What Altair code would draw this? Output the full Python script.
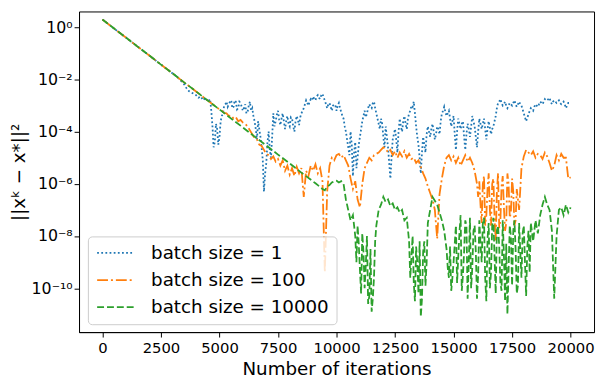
import altair as alt
import pandas as pd

# ---------------- data (log10 of ||x^k - x*||^2) ----------------
series_names = ["batch size = 1", "batch size = 100", "batch size = 10000"]
series_colors = ["#1f77b4", "#ff7f0e", "#2ca02c"]

# batch size = 1
blue_iters = [0, 500, 1000, 1500, 2000, 2500, 3000, 3100, 3200] + list(range(3300, 20001, 100))
blue_log10 = [0.30, -0.05, -0.39, -0.74, -1.08, -1.43, -1.77, -1.84, -1.91,
              -2.0, -2.1, -2.2, -2.35, -2.45, -2.5, -2.55, -2.6, -2.7, -2.65,
              -2.8, -2.7, -2.85, -2.75, -3.8, -4.4, -3.9, -4.2, -3.4, -3.0,
              -2.85, -2.95, -2.8, -3.05, -2.85, -3.1, -2.9, -3.2, -2.95, -3.25,
              -2.85, -3.1, -3.6, -4.3, -3.9, -4.6, -6.3, -5.2, -4.0, -5.0,
              -3.3, -3.6, -3.2, -3.75, -3.3, -3.9, -3.4, -3.8, -3.5, -4.0,
              -3.4, -3.75, -3.3, -3.1, -2.8, -3.0, -2.75, -2.65, -2.8, -2.6,
              -2.75, -2.55, -2.8, -3.1, -2.9, -3.2, -2.95, -3.2, -2.9, -3.25,
              -3.5, -4.0, -4.6, -4.0, -5.7, -4.4, -5.0, -4.2, -3.6, -3.2,
              -3.3, -2.95, -3.1, -2.85, -3.3, -3.7, -3.5, -4.2, -3.8, -4.6,
              -5.8, -4.3, -3.9, -4.8, -3.5, -4.0, -3.4, -3.9, -3.3, -3.0,
              -2.85, -3.8, -4.5, -5.6, -4.2, -4.8, -3.8, -4.2, -3.7, -4.3,
              -3.8, -4.1, -3.3, -3.05, -3.4, -3.2, -3.8, -3.4, -4.7, -3.5,
              -3.9, -3.6, -4.7, -3.7, -4.2, -3.4, -3.8, -4.6, -3.5, -3.9,
              -3.5, -4.3, -3.6, -4.1, -3.8, -3.4, -2.9, -2.75, -3.0, -2.85,
              -3.1, -2.9, -3.0, -2.8, -3.05, -2.85, -3.0, -3.3, -3.6, -3.35,
              -3.1, -3.2, -2.95, -3.05, -2.85, -2.95, -2.75, -2.8, -2.7, -2.95,
              -2.8, -2.9, -2.8, -2.95, -2.85, -3.1, -2.9, -2.95]
# extra readings in between (4650 ... 19950)
blue_band_iters = list(range(4650, 20000, 100))
blue_band_log10 = [-3.2, -4.6, -3.7, -4.5,
                   -3.6, -3.3, -2.95, -3.05, -2.85, -3.1, -2.8, -3.15, -2.85, -3.05,
                   -3.1, -3.3, -3.0, -3.2, -3.4, -3.9, -3.6, -4.2, -5.1, -5.6,
                   -4.4, -4.7, -4.2, -3.8, -3.35, -3.55, -3.5, -3.6, -3.6, -3.7,
                   -3.45, -3.8, -3.6, -3.55, -3.45, -3.2, -2.95, -2.9, -2.85, -2.8,
                   -2.75, -2.65, -2.7, -2.6, -2.7, -2.95, -2.95, -3.05, -3.0, -3.0,
                   -3.0, -3.1, -3.4, -3.8, -4.3, -4.9, -4.5, -4.8, -5.4, -4.5,
                   -3.9, -3.4, -3.45, -3.1, -3.05, -2.9, -3.1, -3.5, -3.9, -3.7,
                   -4.6, -4.2, -5.2, -5.0, -4.1, -4.3, -4.0, -3.8, -3.6, -3.7,
                   -3.5, -3.2, -3.05, -3.3, -4.2, -5.0, -4.8, -4.5, -4.1, -4.0,
                   -3.9, -4.0, -4.1, -3.9, -3.6, -3.2, -3.25, -3.3, -3.5, -3.6,
                   -4.1, -4.0, -3.7, -3.7, -4.2, -4.1, -3.9, -3.8, -3.6, -4.2,
                   -4.0, -3.7, -3.7, -3.9, -3.9, -3.85, -3.9, -3.6, -3.1, -2.85,
                   -2.9, -2.95, -3.0, -3.0, -2.95, -2.9, -2.95, -2.95, -2.95, -3.15,
                   -3.45, -3.45, -3.2, -3.15, -3.05, -3.0, -2.95, -2.9, -2.85, -2.8,
                   -2.75, -2.85, -2.85, -2.85, -2.85, -2.9, -2.9, -2.95, -3.0, -2.9]

# batch size = 100
orange_iters = [0, 500, 1000, 1500, 2000, 2500, 3000, 3500, 4000, 4500, 5000] + list(range(5100, 20001, 100))
orange_log10 = [0.30, -0.05, -0.39, -0.74, -1.08, -1.43, -1.77, -2.12, -2.46, -2.81, -3.15,
                -3.2, -3.28, -3.3, -3.4, -3.38, -3.5, -3.45, -3.6, -3.55, -3.65,
                -3.7, -3.8, -3.95, -4.1, -4.25, -4.3, -4.5, -4.55, -4.7, -4.85,
                -4.9, -5.05, -4.95, -5.15, -5.05, -5.3, -5.1, -5.5, -5.3, -5.65,
                -5.4, -5.7, -5.35, -5.6, -5.4, -6.5, -5.5, -5.7, -5.3, -5.5,
                -5.25, -5.6, -5.4, -5.9, -9.4, -6.3, -5.3, -5.0, -5.1, -4.9,
                -4.85, -5.0, -4.9, -5.1, -5.3, -5.8, -6.2, -5.9, -6.6, -6.9,
                -6.0, -5.4, -5.2, -5.0, -5.1, -4.9, -4.85, -4.8, -4.7, -4.6,
                -4.65, -4.8, -4.7, -4.9, -4.75, -5.0, -4.8, -4.95, -4.75, -5.0,
                -4.85, -5.05, -5.0, -5.2, -5.1, -5.35, -5.6, -5.8, -6.1, -6.35,
                -6.6, -7.0, -8.1, -6.4, -5.8, -5.3, -5.0, -4.9, -5.1, -4.95,
                -5.2, -5.0, -5.3, -5.1, -4.9, -5.15, -5.0, -5.2, -5.5, -6.0,
                -5.9, -7.5, -5.7, -7.2, -5.6, -7.6, -5.8, -8.2, -5.6, -7.4,
                -5.7, -7.8, -5.6, -7.3, -5.8, -7.6, -6.2, -7.0, -5.4, -4.95,
                -4.7, -4.8, -4.9, -4.75, -5.0, -4.85, -4.9, -5.05, -4.8, -4.95,
                -5.2, -5.5, -5.3, -4.9, -5.1, -4.85, -5.0, -5.0, -5.8, -5.75]
# extra readings inside the noisy band (16050 ... 17750)
orange_band_iters = list(range(16050, 17751, 100))
orange_band_log10 = [-6.5, -6.8, -6.0, -7.6, -6.2, -7.0, -6.0, -7.3, -6.3, -7.7,
                     -6.1, -6.9, -7.5, -6.0, -7.1, -6.3, -7.4, -6.6]

# batch size = 10000
green_iters = list(range(0, 9001, 500)) + list(range(9100, 20001, 100))
green_log10 = [0.30, -0.05, -0.39, -0.74, -1.08, -1.43, -1.77, -2.12, -2.46, -2.81,
               -3.15, -3.50, -3.84, -4.19, -4.53, -4.88, -5.22, -5.57, -5.91,
               -5.98, -6.05, -6.12, -6.2, -6.25, -6.1, -6.05, -5.95, -5.9, -5.88,
               -5.95, -5.9, -6.0, -6.6, -7.0, -7.4, -7.2, -8.0, -7.6, -9.3,
               -7.9, -10.0, -8.0, -10.3, -10.9, -9.6, -7.6, -7.0, -6.8, -6.5,
               -6.7, -6.6, -6.85, -6.75, -7.0, -6.9, -7.1, -7.0, -7.4, -7.3,
               -8.2, -8.8, -9.8, -8.4, -10.2, -11.1, -8.6, -9.9, -7.5, -7.0,
               -6.5, -6.65, -6.8, -7.1, -7.4, -7.8, -8.5, -9.6, -10.1, -9.0,
               -7.6, -8.8, -7.2, -9.5, -7.4, -10.4, -7.3, -9.2, -7.6, -10.4,
               -7.4, -9.0, -7.3, -10.5, -7.5, -9.4, -7.3, -10.2, -7.6, -9.8,
               -7.4, -10.5, -11.0, -7.6, -9.9, -7.4, -10.2, -7.5, -9.6, -7.6,
               -10.3, -7.8, -7.5, -8.2, -7.4, -7.9, -7.2, -6.8, -6.5, -6.8,
               -7.0, -7.8, -10.4, -8.0, -7.0, -6.9, -7.2, -6.8, -7.1, -6.9]
# extra readings inside the noisy bands
green_band_iters = (list(range(10850, 11651, 100)) + list(range(13150, 13851, 100))
                    + list(range(14750, 18251, 100)))
green_band_log10 = [-9.0, -8.3, -10.2, -8.6, -9.1, -10.6, -8.5, -10.4, -8.2,
                    -9.6, -8.0, -10.5, -9.0, -8.2, -10.4, -8.2, -9.0,
                    -9.2, -8.4, -9.6, -8.3, -9.8, -7.9, -10.1, -8.6, -7.6, -9.0,
                    -10.0, -7.8, -8.6, -9.5, -8.3, -7.5, -9.6, -8.1, -10.0, -7.6,
                    -8.8, -7.8, -8.4, -10.1, -8.7, -8.3, -9.3, -8.0, -7.8, -8.5,
                    -9.9, -8.6, -7.9, -9.0, -8.4, -9.4]

x_ticks = [0, 2500, 5000, 7500, 10000, 12500, 15000, 17500, 20000]
y_tick_exponents = [0, -2, -4, -6, -8, -10]
y_tick_labels = ["10⁰", "10⁻²", "10⁻⁴", "10⁻⁶", "10⁻⁸", "10⁻¹⁰"]

# ---------------- table ----------------
rows = []
for name, its, logs in [(series_names[0], blue_iters + blue_band_iters, blue_log10 + blue_band_log10),
                        (series_names[1], orange_iters + orange_band_iters, orange_log10 + orange_band_log10),
                        (series_names[2], green_iters + green_band_iters, green_log10 + green_band_log10)]:
    assert len(its) == len(logs), (name, len(its), len(logs))
    for it, lg in zip(its, logs):
        rows.append({"iteration": it, "error": 10.0 ** lg, "series": name})
df = pd.DataFrame(rows).sort_values(["series", "iteration"]).reset_index(drop=True)

label_expr = ""
for ex, lab in zip(y_tick_exponents, y_tick_labels):
    label_expr += f"round(log(datum.value)/LN10) == {ex} ? '{lab}' : "
label_expr += "''"

FONT = "DejaVu Sans"
dashes = [[1.8, 2.4], [11, 3, 2, 3], [7, 3]]

x_enc = alt.X("iteration:Q",
              scale=alt.Scale(domain=[-1000, 21000], nice=False, zero=False),
              axis=alt.Axis(values=x_ticks, format="d", title="Number of iterations",
                            labelFont=FONT, labelFontSize=15, labelPadding=4,
                            titleY=42.5, titleBaseline="alphabetic"))
y_enc = alt.Y("error:Q",
              scale=alt.Scale(type="log", domain=[2.08e-12, 4.03], nice=False),
              axis=alt.Axis(values=[10.0 ** e for e in y_tick_exponents], labelExpr=label_expr,
                            labelFont=FONT, labelFontSize=16,
                            title="||xᵏ − x*||²", labelPadding=2,
                            titleX=-55, titleBaseline="alphabetic"))
color_enc = alt.Color("series:N", scale=alt.Scale(domain=series_names, range=series_colors), title=None)
dash_enc = alt.StrokeDash("series:N", scale=alt.Scale(domain=series_names, range=dashes), title=None)

layers = []
for name in series_names:
    layers.append(
        alt.Chart(df)
        .transform_filter(alt.datum.series == name)
        .mark_line(strokeWidth=1.8, clip=True)
        .encode(x=x_enc, y=y_enc, color=color_enc, strokeDash=dash_enc, order="iteration:Q")
    )

chart = (
    alt.layer(*layers)
    .properties(width=522, height=325,
                autosize=alt.AutoSizeParams(type="none"),
                padding={"left": 72, "top": 1, "right": 2, "bottom": 44})
    .configure_view(stroke="black", strokeWidth=1)
    .configure_axis(grid=False, domainColor="black", domainWidth=1, tickColor="black", tickWidth=1,
                    tickSize=5, labelColor="black", titleColor="black", labelFont=FONT,
                    titleFont=FONT, labelFontSize=15, titleFontSize=18.5, titleFontWeight="normal")
    .configure_legend(orient="none", legendX=9, legendY=228, padding=7.5,
                      fillColor="rgba(255,255,255,0.8)", strokeColor="#cccccc", cornerRadius=4,
                      symbolType="M-1,0H4", symbolSize=219, symbolStrokeWidth=1.8,
                      labelFont=FONT, labelFontSize=18.5, labelColor="black", labelLimit=400,
                      rowPadding=8.5, labelOffset=38)
)

chart.save("out.html", embed_options={"renderer": "svg", "actions": False})
